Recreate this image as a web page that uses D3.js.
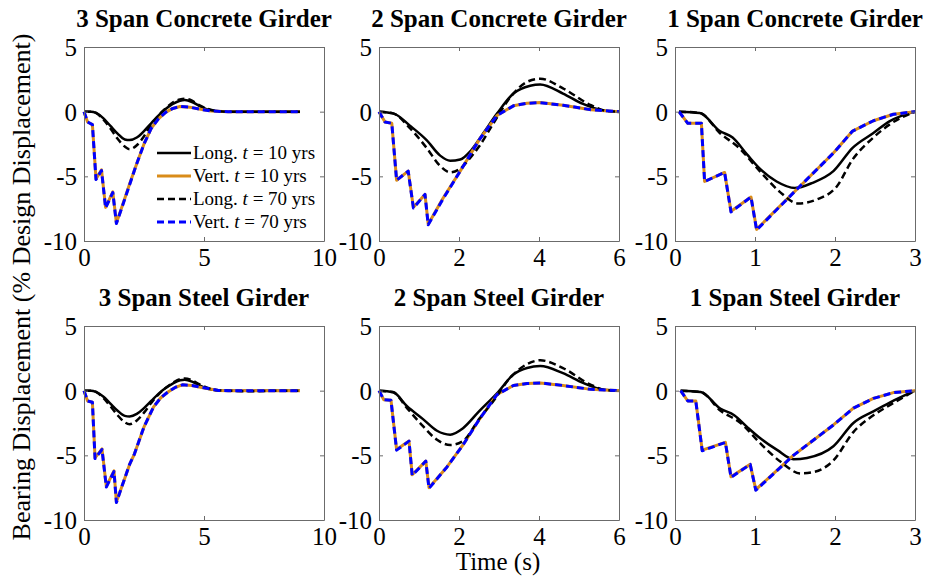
<!DOCTYPE html>
<html>
<head>
<meta charset="utf-8">
<script src="https://cdn.jsdelivr.net/npm/d3@7"></script>
<style>
  html, body { margin: 0; padding: 0; background: #fff; }
  svg { display: block; }
  text { font-family: "Liberation Serif", "Times New Roman", serif; fill: #000; }
</style>
</head>
<body>
<svg id="chart" width="926" height="582"></svg>
<script>
// ---------- DATA ----------
const panelTitles = ["3 Span Concrete Girder", "2 Span Concrete Girder", "1 Span Concrete Girder",
                     "3 Span Steel Girder", "2 Span Steel Girder", "1 Span Steel Girder"];
const xMaxes = [10, 6, 3, 10, 6, 3];
const xTickSets = [[0, 5, 10], [0, 2, 4, 6], [0, 1, 2, 3], [0, 5, 10], [0, 2, 4, 6], [0, 1, 2, 3]];
const yTickValues = [-10, -5, 0, 5];
const seriesNames = ["Long. t = 10 yrs", "Vert. t = 10 yrs", "Long. t = 70 yrs", "Vert. t = 70 yrs"];

// 3 span concrete
const c3Long10 = [[0,0],[0.3,0],[0.5,-0.1],[0.8,-0.5],[1.1,-1.1],[1.4,-1.7],[1.7,-2.15],[1.9,-2.2],[2.2,-2.0],[2.5,-1.5],[2.8,-0.9],[3.1,-0.3],[3.4,0.2],[3.7,0.6],[4.0,0.85],[4.2,0.9],[4.5,0.75],[4.8,0.45],[5.1,0.2],[5.5,0.05],[6,0],[7,0],[8,0],[9,0]];
const c3Long70 = [[0,0],[0.3,0],[0.5,-0.1],[0.8,-0.6],[1.1,-1.3],[1.4,-2.1],[1.7,-2.7],[1.9,-2.9],[2.2,-2.6],[2.5,-1.9],[2.8,-1.0],[3.1,-0.3],[3.4,0.25],[3.7,0.7],[4.0,0.95],[4.2,1.0],[4.5,0.85],[4.8,0.5],[5.1,0.25],[5.5,0.05],[6,0],[7,0],[8,0],[9,0]];
const c3Vert10 = [[0,0],[0.15,-0.8],[0.35,-1.0],[0.5,-5.2],[0.73,-4.5],[0.9,-7.4],[1.2,-6.2],[1.35,-8.6],[1.6,-7.25],[1.9,-5.6],[2.2,-4.0],[2.5,-2.5],[2.8,-1.3],[3.1,-0.55],[3.4,-0.05],[3.7,0.25],[4.0,0.4],[4.4,0.35],[4.8,0.2],[5.3,0.05],[6,0],[7,0],[8,0],[9,0]];
const c3Vert70 = [[0,0],[0.15,-0.8],[0.35,-1.0],[0.5,-5.25],[0.73,-4.55],[0.9,-7.45],[1.2,-6.25],[1.35,-8.65],[1.6,-7.3],[1.9,-5.65],[2.2,-4.0],[2.5,-2.5],[2.8,-1.3],[3.1,-0.55],[3.4,-0.05],[3.7,0.25],[4.0,0.4],[4.4,0.35],[4.8,0.2],[5.3,0.05],[6,0],[7,0],[8,0],[9,0]];

// 2 span concrete
const c2Long10 = [[0,0],[0.36,-0.13],[0.78,-1.1],[1.19,-2.2],[1.53,-3.4],[1.78,-3.8],[2.03,-3.7],[2.3,-3.0],[2.6,-1.7],[2.95,-0.15],[3.36,1.4],[3.78,2.0],[4.03,2.1],[4.6,1.4],[5.1,0.6],[5.6,0.1],[6,0]];
const c2Long70 = [[0,0],[0.36,-0.15],[0.78,-1.3],[1.19,-2.8],[1.53,-4.2],[1.78,-4.7],[2.03,-4.4],[2.3,-3.5],[2.5,-2.7],[2.86,-0.9],[3.28,1.1],[3.7,2.3],[4.03,2.55],[4.6,1.8],[5.3,0.5],[5.7,0.05],[6,0]];
const c2Vert10 = [[0,0],[0.15,-0.8],[0.32,-0.9],[0.44,-5.3],[0.73,-4.6],[0.86,-7.4],[1.15,-6.4],[1.23,-8.7],[1.6,-6.7],[2.03,-4.6],[2.5,-2.2],[2.95,-0.3],[3.36,0.45],[3.7,0.65],[4.03,0.7],[4.6,0.5],[5.3,0.15],[6,0]];
const c2Vert70 = [[0,0],[0.15,-0.8],[0.32,-0.9],[0.44,-5.3],[0.73,-4.6],[0.86,-7.45],[1.15,-6.4],[1.23,-8.75],[1.6,-6.75],[2.03,-4.6],[2.5,-2.2],[2.95,-0.3],[3.36,0.45],[3.7,0.65],[4.03,0.7],[4.6,0.5],[5.3,0.15],[6,0]];

// 1 span concrete
const c1Long10 = [[0.05,0],[0.31,-0.1],[0.56,-1.5],[0.72,-2.0],[0.9,-3.3],[1.06,-4.4],[1.27,-5.4],[1.5,-5.9],[1.72,-5.5],[1.98,-4.6],[2.22,-2.8],[2.48,-1.65],[2.68,-0.75],[3,0]];
const c1Long70 = [[0.05,0],[0.31,-0.1],[0.56,-1.65],[0.8,-2.8],[1.06,-4.6],[1.31,-6.2],[1.54,-7.1],[1.77,-6.8],[2.02,-5.8],[2.22,-3.7],[2.48,-2.0],[2.68,-1.0],[3,0]];
const c1Vert10 = [[0.05,0],[0.16,-0.9],[0.33,-0.9],[0.37,-5.4],[0.62,-4.7],[0.7,-7.7],[0.95,-6.6],[1.02,-9.1],[1.54,-5.9],[1.98,-3.2],[2.22,-1.5],[2.48,-0.7],[2.73,-0.2],[3,0]];
const c1Vert70 = [[0.05,0],[0.16,-0.9],[0.33,-0.9],[0.37,-5.4],[0.62,-4.7],[0.7,-7.75],[0.95,-6.6],[1.02,-9.15],[1.54,-5.9],[1.98,-3.2],[2.22,-1.5],[2.48,-0.7],[2.73,-0.2],[3,0]];

// 3 span steel
const s3Long10 = [[0,0],[0.3,0],[0.5,-0.1],[0.8,-0.45],[1.1,-1.0],[1.4,-1.55],[1.7,-1.95],[1.9,-2.0],[2.2,-1.8],[2.5,-1.35],[2.8,-0.8],[3.1,-0.25],[3.4,0.2],[3.7,0.55],[4.0,0.8],[4.2,0.85],[4.5,0.7],[4.8,0.4],[5.1,0.18],[5.5,0.04],[6,0],[7,0],[8,0],[9,0]];
const s3Long70 = [[0,0],[0.3,0],[0.5,-0.1],[0.8,-0.55],[1.1,-1.2],[1.4,-1.9],[1.7,-2.45],[1.9,-2.6],[2.2,-2.3],[2.5,-1.7],[2.8,-0.95],[3.1,-0.3],[3.4,0.2],[3.7,0.6],[4.0,0.9],[4.2,0.95],[4.5,0.8],[4.8,0.5],[5.1,0.25],[5.5,0.05],[6,0],[7,-0.05],[8,0],[9,0]];
const s3Vert10 = [[0,0],[0.15,-0.8],[0.35,-0.9],[0.46,-5.2],[0.75,-4.5],[0.93,-7.4],[1.25,-6.2],[1.35,-8.6],[1.6,-7.3],[1.9,-5.7],[2.1,-4.9],[2.5,-2.8],[2.9,-1.25],[3.2,-0.55],[3.5,-0.1],[3.8,0.25],[4.1,0.45],[4.5,0.4],[4.9,0.25],[5.6,0.02],[6,0],[7,0],[8,0],[9,0]];
const s3Vert70 = [[0,0],[0.15,-0.8],[0.35,-0.9],[0.46,-5.25],[0.75,-4.55],[0.93,-7.45],[1.25,-6.25],[1.35,-8.65],[1.6,-7.3],[1.9,-5.7],[2.1,-4.9],[2.5,-2.8],[2.9,-1.25],[3.2,-0.55],[3.5,-0.1],[3.8,0.25],[4.1,0.45],[4.5,0.4],[4.9,0.25],[5.6,0.02],[6,0],[7,0],[8,0],[9,0]];

// 2 span steel
const s2Long10 = [[0,0],[0.35,-0.1],[0.7,-1.2],[1.1,-2.2],[1.45,-3.1],[1.78,-3.4],[2.1,-2.9],[2.5,-1.6],[2.95,-0.2],[3.36,1.25],[3.7,1.75],[4.03,1.9],[4.6,1.35],[5.1,0.6],[5.6,0.08],[6,0]];
const s2Long70 = [[0,0],[0.35,-0.12],[0.7,-1.35],[1.1,-2.75],[1.45,-3.8],[1.78,-4.2],[2.1,-3.9],[2.5,-2.2],[2.86,-0.8],[3.28,1.0],[3.7,2.05],[4.03,2.35],[4.6,1.75],[5.3,0.45],[5.7,0.03],[6,0]];
const s2Vert10 = [[0,0],[0.12,-0.7],[0.3,-0.75],[0.44,-4.55],[0.75,-3.9],[0.83,-6.5],[1.17,-5.45],[1.25,-7.5],[1.7,-5.9],[2.1,-4.2],[2.5,-2.25],[2.95,-0.3],[3.36,0.4],[3.7,0.55],[4.03,0.6],[4.6,0.4],[5.3,0.1],[6,0]];
const s2Vert70 = [[0,0],[0.12,-0.7],[0.3,-0.75],[0.44,-4.6],[0.75,-3.9],[0.83,-6.55],[1.17,-5.45],[1.25,-7.55],[1.7,-5.9],[2.1,-4.2],[2.5,-2.25],[2.95,-0.3],[3.36,0.4],[3.7,0.55],[4.03,0.6],[4.6,0.4],[5.3,0.1],[6,0]];

// 1 span steel
const s1Long10 = [[0.07,0],[0.32,-0.1],[0.57,-1.4],[0.74,-1.9],[0.9,-2.8],[1.07,-3.7],[1.28,-4.6],[1.48,-5.3],[1.65,-5.2],[1.98,-4.3],[2.23,-2.5],[2.48,-1.6],[2.69,-0.9],[3,0]];
const s1Long70 = [[0.07,0],[0.32,-0.1],[0.57,-1.55],[0.82,-2.5],[1.07,-4.1],[1.32,-5.5],[1.57,-6.4],[1.73,-6.3],[1.98,-5.4],[2.23,-3.2],[2.48,-1.9],[2.69,-1.1],[3,0]];
const s1Vert10 = [[0.07,0],[0.16,-0.8],[0.26,-0.8],[0.34,-4.6],[0.63,-4.0],[0.7,-6.65],[0.94,-5.7],[1.01,-7.65],[1.48,-5.0],[1.98,-2.65],[2.23,-1.35],[2.48,-0.6],[2.73,-0.15],[3,0]];
const s1Vert70 = [[0.07,0],[0.16,-0.8],[0.26,-0.8],[0.34,-4.65],[0.63,-4.0],[0.7,-6.7],[0.94,-5.7],[1.01,-7.7],[1.48,-5.0],[1.98,-2.65],[2.23,-1.35],[2.48,-0.6],[2.73,-0.15],[3,0]];

const panelSeries = [
  [c3Long10, c3Vert10, c3Long70, c3Vert70],
  [c2Long10, c2Vert10, c2Long70, c2Vert70],
  [c1Long10, c1Vert10, c1Long70, c1Vert70],
  [s3Long10, s3Vert10, s3Long70, s3Vert70],
  [s2Long10, s2Vert10, s2Long70, s2Vert70],
  [s1Long10, s1Vert10, s1Long70, s1Vert70]
];

// ---------- STYLE / LAYOUT ----------
const seriesStyles = [
  { color: "#000000", width: 2.5, dash: null, curve: d3.curveMonotoneX },
  { color: "#D98C1A", width: 3, dash: null, curve: d3.curveLinear },
  { color: "#000000", width: 2.5, dash: "7,4", curve: d3.curveMonotoneX },
  { color: "#0000FF", width: 3, dash: "7,4", curve: d3.curveLinear }
];
const colLefts = [84, 379, 675];
const rowTops = [47, 326];
const plotW = 240, plotH = 194;
const axisColor = "#6b6b6b";

const svg = d3.select("#chart");

panelTitles.forEach((title, i) => {
  const left = colLefts[i % 3], top = rowTops[Math.floor(i / 3)];
  const g = svg.append("g").attr("transform", `translate(${left},${top})`);
  const x = d3.scaleLinear().domain([0, xMaxes[i]]).range([0, plotW]);
  const y = d3.scaleLinear().domain([-10, 5]).range([plotH, 0]);

  // title
  g.append("text").attr("x", plotW / 2).attr("y", -20)
    .attr("text-anchor", "middle").attr("font-size", 25).attr("font-weight", "bold")
    .text(title);

  // series
  panelSeries[i].forEach((data, k) => {
    const st = seriesStyles[k];
    const line = d3.line().x(d => x(d[0])).y(d => y(d[1])).curve(st.curve);
    g.append("path").datum(data).attr("d", line)
      .attr("fill", "none").attr("stroke", st.color).attr("stroke-width", st.width)
      .attr("stroke-dasharray", st.dash).attr("stroke-linejoin", "round");
  });

  // axes (inward ticks, all four sides)
  const tk = 4;
  const bottom = g.append("g").attr("transform", `translate(0,${plotH})`)
    .call(d3.axisBottom(x).tickValues(xTickSets[i]).tickSizeInner(-tk).tickSizeOuter(0).tickPadding(10).tickFormat(d3.format("d")));
  const topAx = g.append("g")
    .call(d3.axisTop(x).tickValues(xTickSets[i]).tickSizeInner(-tk).tickSizeOuter(0).tickFormat(""));
  const leftAx = g.append("g")
    .call(d3.axisLeft(y).tickValues(yTickValues).tickSizeInner(-tk).tickSizeOuter(0).tickPadding(7).tickFormat(d3.format("d")));
  const rightAx = g.append("g").attr("transform", `translate(${plotW},0)`)
    .call(d3.axisRight(y).tickValues(yTickValues).tickSizeInner(-tk).tickSizeOuter(0).tickFormat(""));
  [bottom, topAx, leftAx, rightAx].forEach(a => {
    a.select(".domain").attr("stroke", axisColor).attr("stroke-width", 1);
    a.selectAll(".tick line").attr("stroke", axisColor);
    a.selectAll("text").attr("font-size", 25).attr("font-family", '"Liberation Serif", serif').attr("fill", "#000");
  });
  bottom.selectAll("text").attr("dy", "0.71em").attr("y", 7);
  leftAx.selectAll("text").attr("dy", "0.34em");
  leftAx.selectAll("text").text(d => d < 0 ? "-" + Math.abs(d) : d);
});

// legend in first panel
const lg = svg.append("g");
const legendRows = [153, 176, 199, 222];
seriesNames.forEach((name, k) => {
  const st = seriesStyles[k];
  const yy = legendRows[k];
  lg.append("line").attr("x1", 157).attr("x2", 191).attr("y1", yy).attr("y2", yy)
    .attr("stroke", st.color).attr("stroke-width", st.width).attr("stroke-dasharray", st.dash);
  const parts = name.split(" t ");
  const t = lg.append("text").attr("x", 193).attr("y", yy + 6).attr("font-size", 19);
  t.append("tspan").text(parts[0] + " ");
  t.append("tspan").attr("font-style", "italic").text("t");
  t.append("tspan").text(" " + parts[1]);
});

// axis labels
svg.append("text").attr("x", 498).attr("y", 570).attr("text-anchor", "middle")
  .attr("font-size", 25).text("Time (s)");
svg.append("text").attr("transform", "translate(30,287) rotate(-90)").attr("text-anchor", "middle")
  .attr("font-size", 26).text("Bearing Displacement (% Design Displacement)");
</script>
</body>
</html>
